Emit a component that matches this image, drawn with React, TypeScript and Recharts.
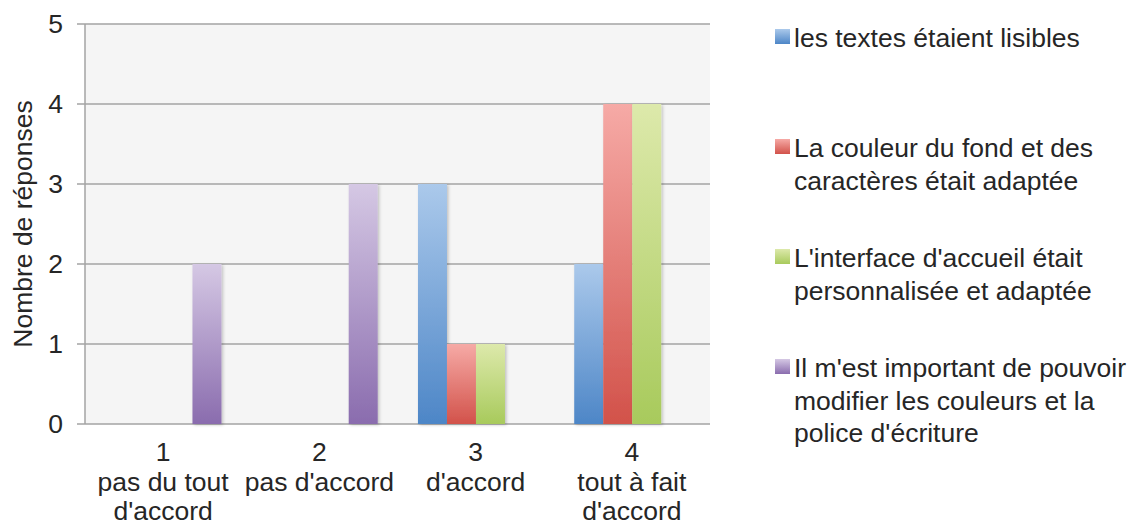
import React from 'react';
import { BarChart, Bar, XAxis, YAxis, CartesianGrid, Legend } from 'recharts';

const categories = ['1', '2', '3', '4'];
const categoryLines = [
  ['1', 'pas du tout', "d'accord"],
  ['2', "pas d'accord"],
  ['3', "d'accord"],
  ['4', 'tout à fait', "d'accord"],
];

const textesLisibles = [0, 0, 3, 2];
const couleurFond = [0, 0, 1, 4];
const interfaceAccueil = [0, 0, 1, 4];
const importantModifier = [2, 3, 0, 0];

const seriesNames = [
  'les textes étaient lisibles',
  'La couleur du fond et des caractères était adaptée',
  "L'interface d'accueil était personnalisée et adaptée",
  "Il m'est important de pouvoir modifier les couleurs et la police d'écriture",
];
const legendLines = [
  ['les textes étaient lisibles'],
  ['La couleur du fond et des', 'caractères était adaptée'],
  ["L'interface d'accueil était", 'personnalisée et adaptée'],
  ["Il m'est important de pouvoir", 'modifier les couleurs et la', "police d'écriture"],
];
const yTicks = [0, 1, 2, 3, 4, 5];
const boundaryTicks = [0, 1, 2, 3, 4];

const seriesKeys = ['s1', 's2', 's3', 's4'];
const gradients = [
  { id: 'gBlue', top: '#abc9eb', bottom: '#4d86c7' },
  { id: 'gRed', top: '#f6aaa6', bottom: '#d2524a' },
  { id: 'gGreen', top: '#dde9ab', bottom: '#a8ca5c' },
  { id: 'gPurple', top: '#d5c8e4', bottom: '#8a6cae' },
];

const data = categories.map((c, i) => ({
  cat: c,
  s1: textesLisibles[i],
  s2: couleurFond[i],
  s3: interfaceAccueil[i],
  s4: importantModifier[i],
}));

const FONT = '"Liberation Sans", Arial, Helvetica, sans-serif';
const TEXT = '#262626';
const GRID = '#a3a3a3';
const FS = 26.5;

const XTick = (props: any) => {
  const { x, y, payload } = props;
  const idx = categories.indexOf(payload.value);
  const lines = categoryLines[idx] || [payload.value];
  return (
    <g>
      {lines.map((l, i) => (
        <text
          key={i}
          x={x}
          y={y + 37 + i * 29.5}
          textAnchor="middle"
          fill={TEXT}
          fontSize={FS}
          fontFamily={FONT}
        >
          {l}
        </text>
      ))}
    </g>
  );
};

const renderLegend = () => (
  <div style={{ fontFamily: FONT, fontSize: FS, color: TEXT }}>
    {legendLines.map((lines, i) => (
      <div key={i} style={{ position: 'relative', height: 110 }}>
        <div
          style={{
            position: 'absolute',
            left: 0,
            top: 7,
            width: 15,
            height: 15,
            background: `linear-gradient(${gradients[i].top}, ${gradients[i].bottom})`,
          }}
        />
        <div style={{ position: 'absolute', left: 19, top: 0, lineHeight: '32.5px', whiteSpace: 'nowrap' }}>
          {lines.map((l, j) => (
            <div key={j}>{l}</div>
          ))}
        </div>
      </div>
    ))}
  </div>
);

export default function App() {
  return (
    <div style={{ position: 'absolute', left: 0, top: 0, width: 1136, height: 529, background: '#fff' }}>
      <BarChart
        width={1136}
        height={529}
        data={data}
        margin={{ top: 24, right: 426, bottom: 0, left: 0 }}
        barCategoryGap="13.1%"
        barGap={0}
      >
        <defs>
          {gradients.map((g) => (
            <linearGradient key={g.id} id={g.id} x1="0" y1="0" x2="0" y2="1">
              <stop offset="0%" stopColor={g.top} />
              <stop offset="100%" stopColor={g.bottom} />
            </linearGradient>
          ))}
          <filter id="barShadow" x="-30%" y="-10%" width="160%" height="120%">
            <feDropShadow dx="1.5" dy="1" stdDeviation="1.8" floodColor="#000" floodOpacity="0.22" />
          </filter>
        </defs>
        <CartesianGrid vertical={false} stroke={GRID} strokeWidth={1.5} fill="#f5f5f5" />
        <XAxis
          xAxisId="bounds"
          type="number"
          domain={[0, 4]}
          ticks={boundaryTicks}
          allowDataOverflow
          height={0}
          tick={false}
          tickSize={8}
          axisLine={{ stroke: GRID, strokeWidth: 1.5 }}
          tickLine={{ stroke: GRID, strokeWidth: 1.5 }}
        />
        <XAxis
          dataKey="cat"
          height={105}
          axisLine={false}
          tickLine={false}
          tickSize={0}
          tickMargin={0}
          interval={0}
          tick={<XTick />}
        />
        <YAxis
          width={85}
          domain={[0, 5]}
          ticks={yTicks}
          interval={0}
          tickSize={8}
          tickMargin={14}
          axisLine={{ stroke: GRID, strokeWidth: 1.5 }}
          tickLine={{ stroke: GRID, strokeWidth: 1.5 }}
          tick={{ fill: TEXT, fontSize: FS, fontFamily: FONT }}
          label={{
            value: 'Nombre de réponses',
            angle: -90,
            position: 'center',
            dx: -19.5,
            style: { fill: TEXT, fontSize: FS, fontFamily: FONT },
          }}
        />
        <Legend
          layout="vertical"
          align="center"
          verticalAlign="middle"
          content={renderLegend}
          wrapperStyle={{ left: 775, top: 22, width: 361, height: 440 }}
        />
        {seriesKeys.map((k, i) => (
          <Bar
            key={k}
            dataKey={k}
            name={seriesNames[i]}
            fill={`url(#${gradients[i].id})`}
            filter="url(#barShadow)"
            isAnimationActive={false}
          />
        ))}
      </BarChart>
    </div>
  );
}
